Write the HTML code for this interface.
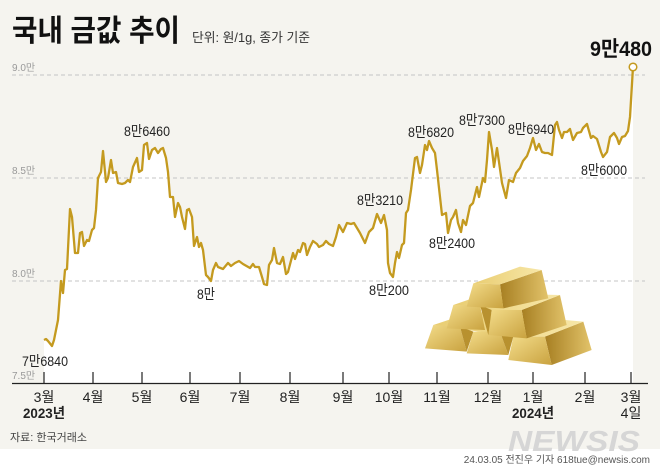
<!DOCTYPE html>
<html><head><meta charset="utf-8"><style>
html,body{margin:0;padding:0;background:#fff}
svg{display:block}
text{font-family:"Liberation Sans","Noto Sans CJK KR",sans-serif}
</style></head><body>
<svg width="660" height="469" viewBox="0 0 660 469" xmlns="http://www.w3.org/2000/svg">
<defs>
<linearGradient id="gf" x1="0" y1="0" x2="1" y2="1"><stop offset="0" stop-color="#f3dc8a"/><stop offset="1" stop-color="#c9a23f"/></linearGradient>
<linearGradient id="gs" x1="0" y1="0" x2="1" y2="0"><stop offset="0" stop-color="#a77f22"/><stop offset="1" stop-color="#e2c36a"/></linearGradient>
<linearGradient id="gt" x1="0" y1="0" x2="1" y2="0"><stop offset="0" stop-color="#e9cd72"/><stop offset="1" stop-color="#f7e7a8"/></linearGradient>
</defs>
<rect x="0" y="0" width="660" height="449" fill="#f5f4ef"/>
<text x="12" y="41" font-size="30" font-weight="bold" fill="#111" textLength="168" lengthAdjust="spacingAndGlyphs">국내 금값 추이</text>
<text x="192" y="42" font-size="13" fill="#333" textLength="118" lengthAdjust="spacingAndGlyphs">단위: 원/1g, 종가 기준</text>
<g fill="#999" font-size="10">
<text x="12" y="71">9.0만</text><text x="12" y="174">8.5만</text><text x="12" y="277">8.0만</text><text x="12" y="379">7.5만</text>
</g>
<polygon fill="#fff" points="44,384 44,340 46,339 48,341 52,346 54,340 57,325 58,320 61,281 63,293 65,270 67,269 70,209 72,217 75,253 78,253 80,233 82,232 84,246 87,240 89,241 92,230 94,228 96,210 98,178 101,172 103,151 106,182 108,178 111,160 113,173 116,172 118,183 122,184 125,183 128,180 130,182 133,167 137,158 139,172 142,170 144,145 147,143 149,159 152,150 155,148 158,153 161,149 163,148 166,158 168,172 170,197 173,197 175,217 178,203 180,207 182,217 185,229 187,210 189,209 192,217 194,246 197,237 199,247 201,243 203,250 206,275 208,277 211,281 213,270 216,263 218,267 223,269 228,263 231,266 235,263 239,261 243,264 250,268 253,264 255,267 259,267 262,277 264,284 267,285 269,265 272,260 274,248 277,263 280,264 283,257 286,274 288,272 293,253 295,259 298,250 300,252 303,243 305,244 307,255 310,247 313,241 317,244 319,247 323,245 326,241 329,244 333,246 336,237 339,225 343,232 347,223 351,224 354,223 360,233 365,243 369,232 373,228 377,214 381,223 384,215 387,230 388,263 390,273 393,277 395,263 397,252 399,258 402,245 404,243 406,213 408,210 411,190 415,158 417,157 420,173 422,165 425,145 427,150 429,141 432,148 435,153 437,170 442,215 446,213 448,233 451,220 453,217 456,210 458,223 461,232 463,220 466,225 470,206 473,203 477,187 479,197 483,178 485,182 487,160 489,132 492,150 494,167 497,148 500,169 502,183 506,198 509,180 513,182 516,173 520,168 523,161 527,156 530,148 533,138 536,150 539,144 542,152 545,153 548,153 552,155 555,125 557,122 559,130 562,138 564,132 567,132 570,129 573,140 577,133 581,132 583,128 587,124 591,138 593,136 597,139 601,152 603,157 607,152 610,137 614,133 617,138 619,144 622,137 625,136 628,131 630,117 633,67 633,384"/>
<g stroke="#c4c4c4" stroke-width="1" stroke-dasharray="4,3">
<line x1="12" y1="75" x2="645" y2="75"/><line x1="12" y1="178" x2="645" y2="178"/><line x1="12" y1="281" x2="645" y2="281"/>
</g>
<g transform="translate(420,255) scale(0.3333)" stroke="none">
<polygon fill="url(#gs)" points="375,245 490,200 515,285 395,330"/>
<polygon fill="url(#gt)" points="40,210 160,170 490,200 375,245 280,245"/>
<polygon fill="url(#gf)" points="40,210 120,215 140,290 15,280"/>
<polygon fill="url(#gf)" points="160,230 240,230 265,300 140,295"/>
<polygon fill="url(#gf)" points="280,245 375,245 395,330 265,315"/>
<polygon fill="#b8912f" points="120,215 160,230 140,290"/>
<polygon fill="#b8912f" points="240,230 280,245 265,300"/>
<polygon fill="url(#gs)" points="305,165 420,120 440,210 320,250"/>
<polygon fill="url(#gt)" points="100,150 200,115 420,120 305,165 215,165"/>
<polygon fill="url(#gf)" points="100,150 180,150 195,225 80,220"/>
<polygon fill="url(#gf)" points="215,165 305,165 320,250 205,240"/>
<polygon fill="#b8912f" points="180,150 215,165 205,240"/>
<polygon fill="url(#gs)" points="240,88 365,45 385,130 250,160"/>
<polygon fill="url(#gt)" points="160,85 300,35 365,45 240,88"/>
<polygon fill="url(#gf)" points="160,85 240,88 250,160 140,155"/>
</g>
<polyline fill="none" stroke="#c49a1f" stroke-width="2.3" stroke-linejoin="round" points="44,340 46,339 48,341 52,346 54,340 57,325 58,320 61,281 63,293 65,270 67,269 70,209 72,217 75,253 78,253 80,233 82,232 84,246 87,240 89,241 92,230 94,228 96,210 98,178 101,172 103,151 106,182 108,178 111,160 113,173 116,172 118,183 122,184 125,183 128,180 130,182 133,167 137,158 139,172 142,170 144,145 147,143 149,159 152,150 155,148 158,153 161,149 163,148 166,158 168,172 170,197 173,197 175,217 178,203 180,207 182,217 185,229 187,210 189,209 192,217 194,246 197,237 199,247 201,243 203,250 206,275 208,277 211,281 213,270 216,263 218,267 223,269 228,263 231,266 235,263 239,261 243,264 250,268 253,264 255,267 259,267 262,277 264,284 267,285 269,265 272,260 274,248 277,263 280,264 283,257 286,274 288,272 293,253 295,259 298,250 300,252 303,243 305,244 307,255 310,247 313,241 317,244 319,247 323,245 326,241 329,244 333,246 336,237 339,225 343,232 347,223 351,224 354,223 360,233 365,243 369,232 373,228 377,214 381,223 384,215 387,230 388,263 390,273 393,277 395,263 397,252 399,258 402,245 404,243 406,213 408,210 411,190 415,158 417,157 420,173 422,165 425,145 427,150 429,141 432,148 435,153 437,170 442,215 446,213 448,233 451,220 453,217 456,210 458,223 461,232 463,220 466,225 470,206 473,203 477,187 479,197 483,178 485,182 487,160 489,132 492,150 494,167 497,148 500,169 502,183 506,198 509,180 513,182 516,173 520,168 523,161 527,156 530,148 533,138 536,150 539,144 542,152 545,153 548,153 552,155 555,125 557,122 559,130 562,138 564,132 567,132 570,129 573,140 577,133 581,132 583,128 587,124 591,138 593,136 597,139 601,152 603,157 607,152 610,137 614,133 617,138 619,144 622,137 625,136 628,131 630,117 633,67"/>
<circle cx="633" cy="67" r="3.8" fill="#fff" stroke="#c49a1f" stroke-width="1.5"/>
<text x="590" y="56" font-size="21" font-weight="bold" fill="#111" textLength="62" lengthAdjust="spacingAndGlyphs">9만480</text>
<g font-size="14" fill="#222" text-anchor="middle">
<text x="147" y="136" textLength="46" lengthAdjust="spacingAndGlyphs">8만6460</text>
<text x="45" y="366" textLength="46" lengthAdjust="spacingAndGlyphs">7만6840</text>
<text x="206" y="299" textLength="18" lengthAdjust="spacingAndGlyphs">8만</text>
<text x="380" y="205" textLength="46" lengthAdjust="spacingAndGlyphs">8만3210</text>
<text x="389" y="295" textLength="40" lengthAdjust="spacingAndGlyphs">8만200</text>
<text x="431" y="137" textLength="46" lengthAdjust="spacingAndGlyphs">8만6820</text>
<text x="452" y="248" textLength="46" lengthAdjust="spacingAndGlyphs">8만2400</text>
<text x="482" y="125" textLength="46" lengthAdjust="spacingAndGlyphs">8만7300</text>
<text x="531" y="134" textLength="46" lengthAdjust="spacingAndGlyphs">8만6940</text>
<text x="604" y="175" textLength="46" lengthAdjust="spacingAndGlyphs">8만6000</text>
</g>
<line x1="12" y1="383.5" x2="648" y2="383.5" stroke="#222" stroke-width="1.3"/>
<g stroke="#222" stroke-width="1.2">
<line x1="44" y1="372" x2="44" y2="383"/><line x1="93" y1="372" x2="93" y2="383"/><line x1="142" y1="372" x2="142" y2="383"/><line x1="190" y1="372" x2="190" y2="383"/><line x1="240" y1="372" x2="240" y2="383"/><line x1="290" y1="372" x2="290" y2="383"/><line x1="343" y1="372" x2="343" y2="383"/><line x1="389" y1="372" x2="389" y2="383"/><line x1="437" y1="372" x2="437" y2="383"/><line x1="488" y1="372" x2="488" y2="383"/><line x1="533" y1="372" x2="533" y2="383"/><line x1="585" y1="372" x2="585" y2="383"/><line x1="631" y1="372" x2="631" y2="383"/>
</g>
<g font-size="14" fill="#222" text-anchor="middle">
<text x="44" y="402">3월</text><text x="93" y="402">4월</text><text x="142" y="402">5월</text><text x="190" y="402">6월</text><text x="240" y="402">7월</text><text x="290" y="402">8월</text><text x="343" y="402">9월</text><text x="389" y="402">10월</text><text x="437" y="402">11월</text><text x="488" y="402">12월</text><text x="533" y="402">1월</text><text x="585" y="402">2월</text><text x="631" y="402">3월</text>
<text x="631" y="418">4일</text>
<text x="44" y="418" font-weight="bold" textLength="42" lengthAdjust="spacingAndGlyphs">2023년</text>
<text x="533" y="418" font-weight="bold" textLength="42" lengthAdjust="spacingAndGlyphs">2024년</text>
</g>
<text x="10" y="441" font-size="11" fill="#444">자료: 한국거래소</text>
<text x="508" y="451" font-size="29" font-weight="bold" font-style="italic" fill="#d6d6d6" textLength="132" lengthAdjust="spacingAndGlyphs">NEWSIS</text>
<text x="650" y="463" font-size="10" fill="#555" text-anchor="end">24.03.05 전진우 기자 618tue@newsis.com</text>
</svg>
</body></html>
